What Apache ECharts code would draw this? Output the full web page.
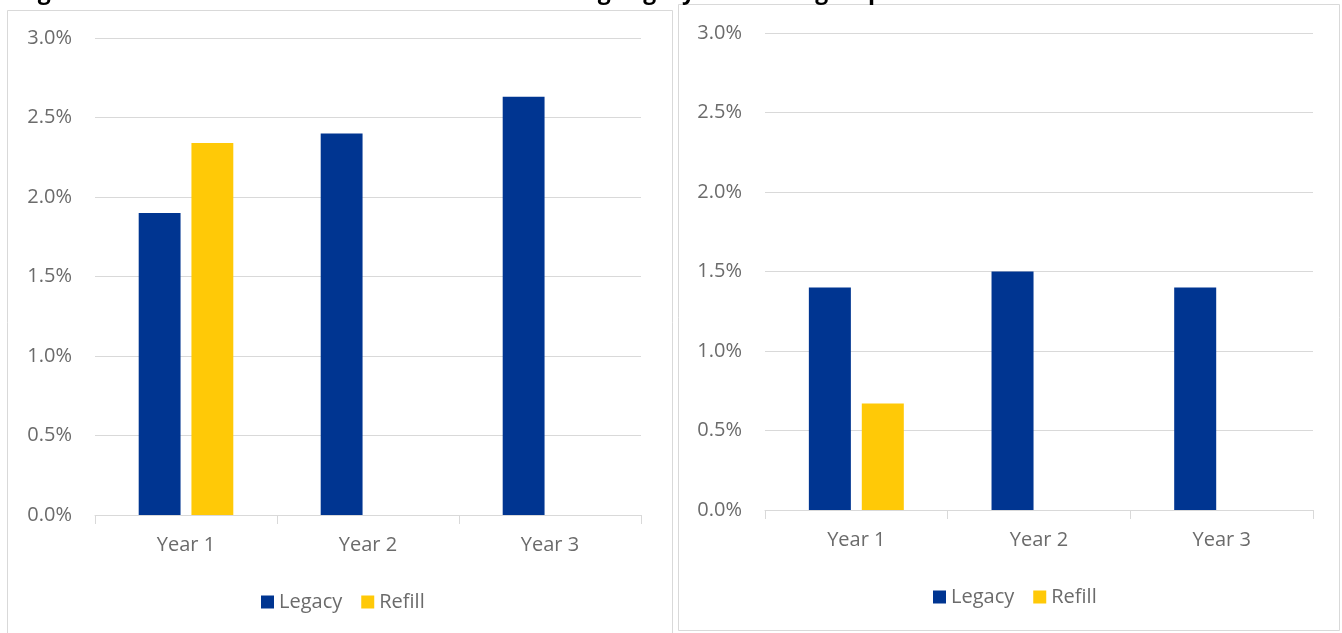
<!DOCTYPE html>
<html>
<head>
<meta charset="utf-8">
<style>
  html, body { margin: 0; padding: 0; background: #ffffff; }
  #chart { width: 1342px; height: 633px; }
</style>
<script src="https://cdn.jsdelivr.net/npm/echarts@6/dist/echarts.min.js"></script>
</head>
<body>
<div id="chart"></div>
<script>
// Categories and values (percent) for the two panels
const years = ['Year 1', 'Year 2', 'Year 3'];
const leftLegacy = [1.9, 2.4, 2.63];
const leftRefill = [2.34, null, null];
const rightLegacy = [1.4, 1.5, 1.4];
const rightRefill = [0.67, null, null];
const yTicks = { min: 0, max: 3, interval: 0.5 };
const seriesNames = ['Legacy', 'Refill'];
const titleText = 'Figure 3.6: Percent of lost and stolen devices among Legacy and Refill groups';

const LEGACY = '#003591';
const REFILL = '#FFC907';
const TEXT = '#6b6b6b';
const GRID = '#d9d9d9';
const FONT = '"Open Sans", "Noto Sans", sans-serif';

function yAxis(gridIndex) {
  return {
    type: 'value', gridIndex,
    min: yTicks.min, max: yTicks.max, interval: yTicks.interval,
    axisLine: { show: false }, axisTick: { show: false },
    splitLine: { lineStyle: { color: GRID, width: 1 } },
    axisLabel: {
      color: TEXT, fontFamily: FONT, fontSize: 20, margin: 23,
      formatter: v => v.toFixed(1) + '%'
    }
  };
}
function xAxis(gridIndex) {
  return {
    type: 'category', gridIndex, data: years,
    axisLine: { lineStyle: { color: GRID, width: 1 } },
    axisTick: { show: true, length: 9, lineStyle: { color: GRID } },
    axisLabel: { color: TEXT, fontFamily: FONT, fontSize: 20, margin: 20 }
  };
}
function bar(name, data, idx, color) {
  return {
    name, type: 'bar', data, xAxisIndex: idx, yAxisIndex: idx,
    barWidth: '23%', barGap: '26%',
    itemStyle: { color },
    emphasis: { disabled: true }
  };
}
function legend(left, top) {
  return {
    data: seriesNames, left, top,
    itemWidth: 13, itemHeight: 13, itemGap: 19,
    icon: 'rect',
    textStyle: { color: TEXT, fontFamily: FONT, fontSize: 20 }
  };
}

const chart = echarts.init(document.getElementById('chart'), null, { renderer: 'canvas' });
chart.setOption({
  animation: false,
  backgroundColor: '#ffffff',
  grid: [
    { left: 95, right: 701, top: 38, bottom: 118 },
    { left: 765, right: 29, top: 33, bottom: 123 }
  ],
  xAxis: [xAxis(0), xAxis(1)],
  yAxis: [yAxis(0), yAxis(1)],
  legend: [legend(256, 587), legend(928, 582)],
  series: [
    bar('Legacy', leftLegacy, 0, LEGACY),
    bar('Refill', leftRefill, 0, REFILL),
    bar('Legacy', rightLegacy, 1, LEGACY),
    bar('Refill', rightRefill, 1, REFILL)
  ],
  graphic: [
    {
      type: 'text', left: 18, top: -19, z: 10,
      style: { text: titleText, fill: '#000000', font: 'bold 23px ' + FONT }
    },
    {
      type: 'rect', z: -1, silent: true,
      shape: { x: 7.5, y: 10.5, width: 665, height: 640 },
      style: { fill: 'none', stroke: GRID, lineWidth: 1 }
    },
    {
      type: 'rect', z: -1, silent: true,
      shape: { x: 678.5, y: 4.5, width: 661, height: 626 },
      style: { fill: 'none', stroke: GRID, lineWidth: 1 }
    }
  ]
});
</script>
</body>
</html>
